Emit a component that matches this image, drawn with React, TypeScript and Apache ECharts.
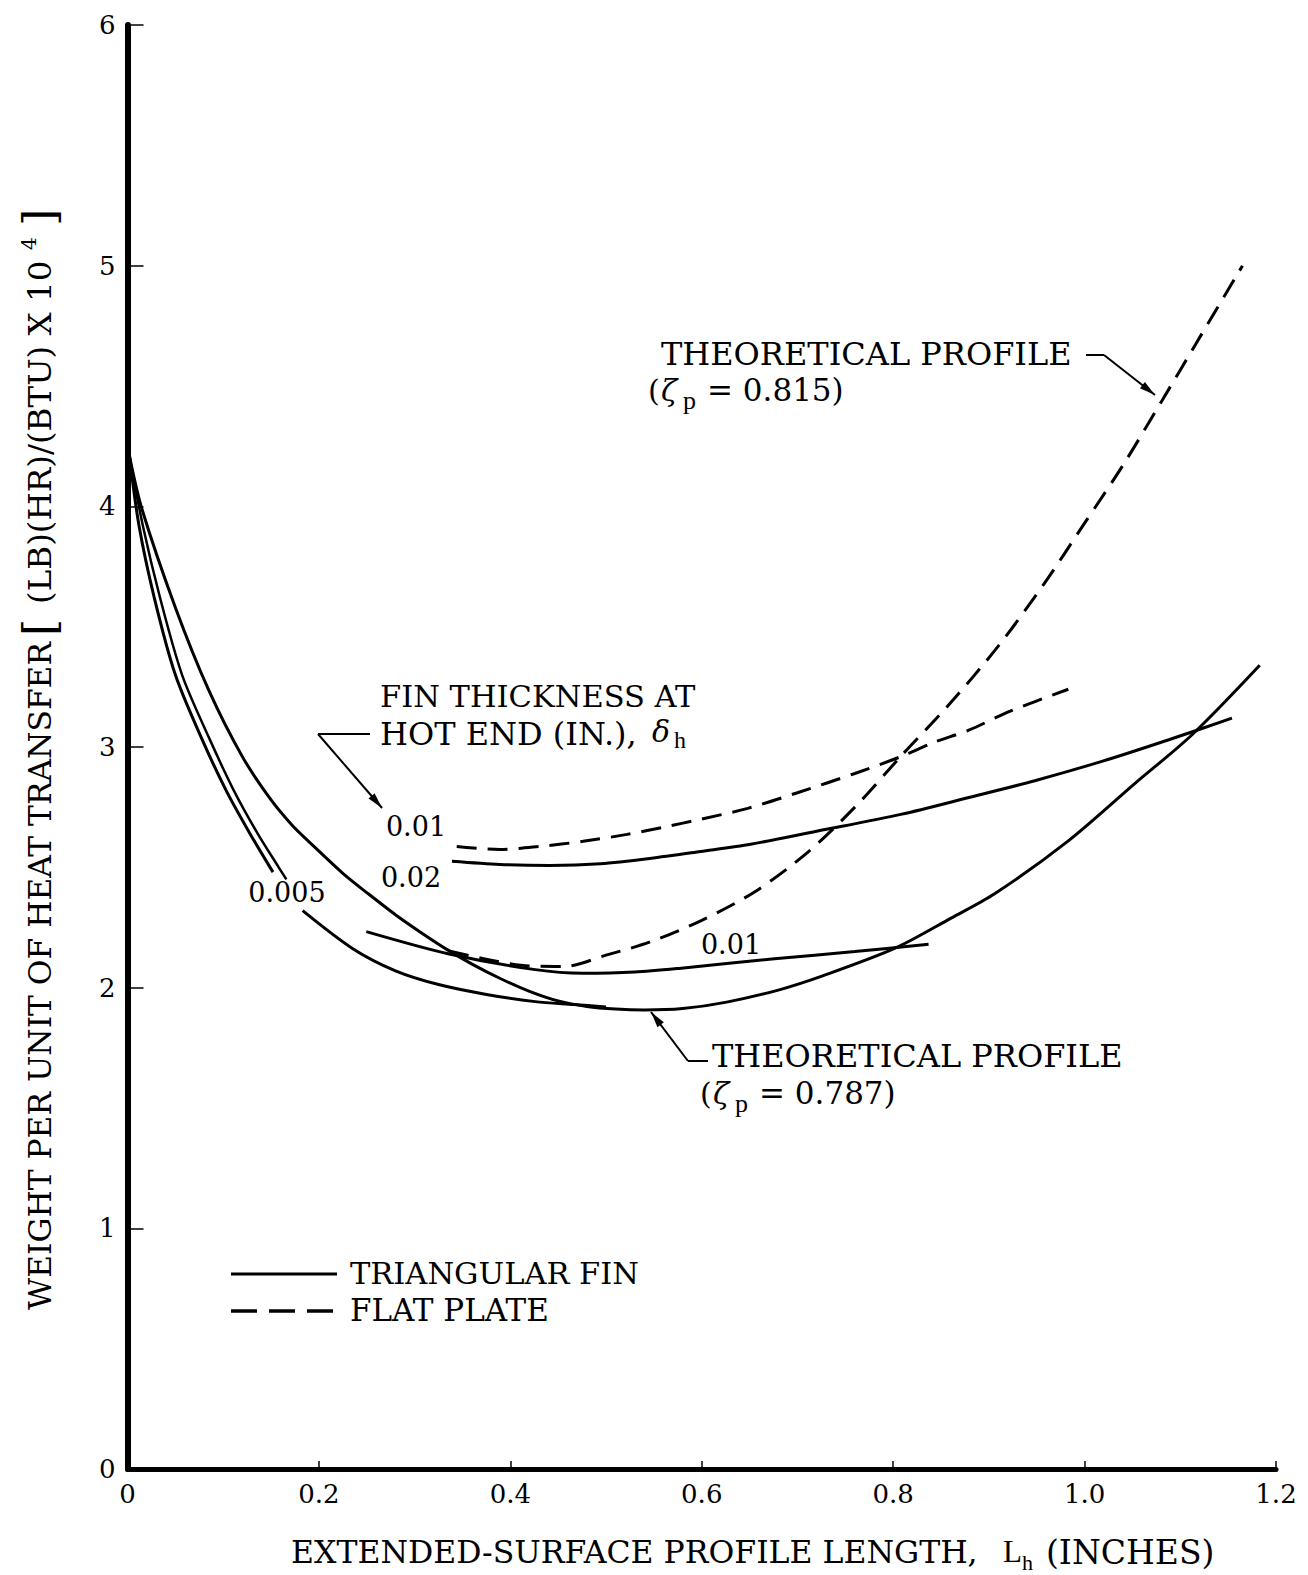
import React, { useEffect, useRef } from "react";
import * as echarts from "echarts";

// ---------- axis ticks ----------
const X_TICKS = [0, 0.2, 0.4, 0.6, 0.8, 1.0, 1.2];
const X_TICK_LABELS = ["0", "0.2", "0.4", "0.6", "0.8", "1.0", "1.2"];
const Y_TICK_LABELS = ["0", "1", "2", "3", "4", "5", "6"];

// ---------- series values [L_h (in), weight x 10^4] ----------
// Triangular fin, delta_h = 0.005 : inner stroke ending above its label
const tri005Upper = [
  [0.002, 4.21], [0.012, 3.92], [0.028, 3.62], [0.05, 3.3], [0.077, 3.04],
  [0.103, 2.82], [0.128, 2.64], [0.152, 2.48],
];
// companion stroke running just beside it
const tri005Beside = [
  [0.002, 4.21], [0.016, 3.92], [0.034, 3.62], [0.057, 3.3], [0.085, 3.04],
  [0.111, 2.82], [0.136, 2.64], [0.158, 2.5], [0.166, 2.45],
];
// continuation below the label
const tri005Lower = [
  [0.183, 2.32], [0.235, 2.163], [0.28, 2.07], [0.325, 2.013], [0.375, 1.972],
  [0.426, 1.942], [0.466, 1.93], [0.5, 1.92],
];
// Theoretical profile, triangular fin (zeta_p = 0.787)
const theory787 = [
  [0.002, 4.21], [0.015, 3.99], [0.05, 3.58], [0.085, 3.235], [0.12, 2.96],
  [0.15, 2.78], [0.172, 2.675], [0.19, 2.605], [0.225, 2.475], [0.25, 2.395],
  [0.281, 2.3], [0.31, 2.22], [0.334, 2.158], [0.36, 2.098], [0.39, 2.037],
  [0.42, 1.985], [0.45, 1.945], [0.48, 1.922], [0.51, 1.911], [0.54, 1.907],
  [0.58, 1.913], [0.626, 1.94], [0.68, 1.99], [0.727, 2.05], [0.802, 2.164],
  [0.861, 2.29], [0.906, 2.39], [0.983, 2.61], [1.053, 2.85], [1.112, 3.05],
  [1.183, 3.34],
];
// Triangular fin, delta_h = 0.01
const tri001 = [
  [0.2495, 2.233], [0.336, 2.14], [0.426, 2.075], [0.476, 2.06], [0.53, 2.065],
  [0.576, 2.08], [0.676, 2.12], [0.76, 2.15], [0.837, 2.18],
];
// Triangular fin, delta_h = 0.02
const tri002 = [
  [0.339, 2.525], [0.389, 2.512], [0.441, 2.508], [0.494, 2.515], [0.546, 2.537],
  [0.599, 2.566], [0.651, 2.596], [0.72, 2.65], [0.808, 2.72], [0.879, 2.79],
  [0.948, 2.86], [1.018, 2.94], [1.088, 3.03], [1.154, 3.12],
];
// Flat plate, delta_h = 0.01
const flat001 = [
  [0.344, 2.587], [0.389, 2.574], [0.431, 2.587], [0.476, 2.608], [0.522, 2.637],
  [0.564, 2.67], [0.599, 2.7], [0.648, 2.745], [0.7, 2.81], [0.76, 2.89],
  [0.808, 2.96], [0.843, 3.02], [0.879, 3.07], [0.923, 3.15], [0.983, 3.24],
];
// Theoretical profile, flat plate (zeta_p = 0.815)
const flat815 = [
  [0.336, 2.152], [0.38, 2.114], [0.42, 2.09], [0.456, 2.088], [0.5, 2.135],
  [0.546, 2.19], [0.6, 2.28], [0.656, 2.4], [0.71, 2.56], [0.76, 2.75],
  [0.81, 2.97], [0.857, 3.17], [0.91, 3.42], [0.958, 3.68], [1.0, 3.93],
  [1.04, 4.17], [1.081, 4.44], [1.12, 4.7], [1.165, 5.0],
];

const FONT = '"DejaVu Serif", "Liberation Serif", serif';
const SERIF2 = '"Liberation Serif", "DejaVu Serif", serif';

function txt(text: string, x: number, y: number, size: number, o: any = {}) {
  return {
    type: "text",
    x,
    y,
    silent: true,
    style: {
      text,
      fontSize: size,
      fontFamily: o.family || FONT,
      fontStyle: o.italic ? "italic" : "normal",
      fontWeight: o.weight || "normal",
      fill: "#000",
      textAlign: o.align || "left",
      textVerticalAlign: "middle",
      align: o.align || "left",
      verticalAlign: "middle",
    },
  };
}

function seg(x1: number, y1: number, x2: number, y2: number, w = 2, dash?: number[]) {
  return {
    type: "line",
    silent: true,
    shape: { x1, y1, x2, y2 },
    style: { stroke: "#000", lineWidth: w, lineDash: dash || null },
  };
}

function arrowHead(fromX: number, fromY: number, tipX: number, tipY: number, len = 16, half = 4) {
  const dx = tipX - fromX;
  const dy = tipY - fromY;
  const d = Math.sqrt(dx * dx + dy * dy);
  const ux = dx / d;
  const uy = dy / d;
  const bx = tipX - ux * len;
  const by = tipY - uy * len;
  return {
    type: "polygon",
    silent: true,
    shape: {
      points: [
        [tipX, tipY],
        [bx - uy * half, by + ux * half],
        [bx + uy * half, by - ux * half],
      ],
    },
    style: { fill: "#000" },
  };
}

function lineSeries(name: string, data: number[][], dashed: boolean, width = 3) {
  return {
    type: "line",
    name,
    data,
    showSymbol: false,
    smooth: 0.3,
    silent: true,
    lineStyle: { color: "#000", width, type: dashed ? [20, 11] : "solid" },
    z: 3,
  };
}

const option: any = {
  animation: false,
  backgroundColor: "#fff",
  grid: { left: 127.5, right: 32, top: 25, bottom: 106 },
  xAxis: {
    type: "value",
    min: 0,
    max: 1.2,
    interval: 0.2,
    splitLine: { show: false },
    axisLine: { show: true, lineStyle: { color: "#000", width: 5 } },
    axisTick: { show: true, inside: true, length: 8, lineStyle: { color: "#000", width: 1.5 } },
    axisLabel: {
      color: "#000",
      fontFamily: FONT,
      fontSize: 26,
      margin: 12,
      formatter: (v: number) => {
        const i = X_TICKS.findIndex((t) => Math.abs(t - v) < 1e-6);
        return i >= 0 ? X_TICK_LABELS[i] : "";
      },
    },
  },
  yAxis: {
    type: "value",
    min: 0,
    max: 6,
    interval: 1,
    splitLine: { show: false },
    axisLine: { show: true, lineStyle: { color: "#000", width: 6 } },
    axisTick: { show: true, inside: true, length: 16, lineStyle: { color: "#000", width: 1.5 } },
    axisLabel: {
      color: "#000",
      fontFamily: FONT,
      fontSize: 26,
      margin: 12,
      formatter: (v: number) => Y_TICK_LABELS[Math.round(v)] ?? "",
    },
  },
  series: [
    lineSeries("TRIANGULAR FIN 0.005", tri005Upper, false),
    lineSeries("TRIANGULAR FIN 0.005 (beside)", tri005Beside, false, 2.5),
    lineSeries("TRIANGULAR FIN 0.005 (lower)", tri005Lower, false),
    lineSeries("THEORETICAL PROFILE 0.787", theory787, false),
    lineSeries("TRIANGULAR FIN 0.01", tri001, false),
    lineSeries("TRIANGULAR FIN 0.02", tri002, false),
    lineSeries("FLAT PLATE 0.01", flat001, true),
    lineSeries("THEORETICAL PROFILE 0.815", flat815, true),
  ],
  graphic: [
    // y-axis title (rotated)
    {
      type: "group",
      x: 40,
      y: 1310,
      rotation: Math.PI / 2,
      silent: true,
      children: [
        txt("WEIGHT PER UNIT OF HEAT TRANSFER", 0, 0, 31.3),
        txt("[", 674, -1, 44),
        txt("(LB)(HR)/(BTU) X 10", 706, 0, 32.5),
        txt("4", 1060, -11, 20),
        txt("]", 1084, -1, 44),
      ],
    },
    // x-axis title
    txt("EXTENDED-SURFACE PROFILE LENGTH,", 291, 1552, 31.5),
    txt("L", 1003, 1551, 31, { family: SERIF2 }),
    txt("h", 1022, 1562, 22, { family: SERIF2 }),
    txt("(INCHES)", 1046, 1552, 33),

    // fin thickness annotation
    txt("FIN THICKNESS AT", 380, 696, 30.5),
    txt("HOT END (IN.),", 380, 734, 32),
    txt("δ", 652, 731, 30, { italic: true }),
    txt("h", 674, 740, 24, { family: SERIF2 }),
    seg(318, 734, 370, 734),
    seg(318, 734, 382, 808),
    arrowHead(318, 734, 382, 808),

    // curve labels
    txt("0.01", 416, 826, 27, { align: "center" }),
    txt("0.02", 411, 877, 27, { align: "center" }),
    txt("0.005", 287, 892, 27, { align: "center" }),
    txt("0.01", 731, 944, 27, { align: "center" }),

    // upper theoretical profile annotation
    txt("THEORETICAL PROFILE", 661, 354, 32),
    txt("(", 648, 390, 30),
    txt("ζ", 661, 390, 30, { italic: true }),
    txt("p", 683, 400, 26, { family: SERIF2 }),
    txt("= 0.815)", 707, 390, 31),
    seg(1086, 355, 1104, 355),
    seg(1104, 355, 1155, 395),
    arrowHead(1104, 355, 1155, 395),

    // lower theoretical profile annotation
    txt("THEORETICAL PROFILE", 712, 1056, 32),
    txt("(", 700, 1093, 30),
    txt("ζ", 713, 1093, 30, { italic: true }),
    txt("p", 735, 1103, 26, { family: SERIF2 }),
    txt("= 0.787)", 759, 1093, 31),
    seg(688, 1061, 708, 1061),
    seg(688, 1061, 651, 1012),
    arrowHead(688, 1061, 651, 1012),

    // legend
    seg(231, 1274, 337, 1274, 3),
    txt("TRIANGULAR FIN", 350, 1273, 30.5),
    seg(231, 1311, 337, 1311, 3.5, [26, 12]),
    txt("FLAT PLATE", 350, 1310, 31),
  ],
};

export default function App() {
  const ref = useRef<HTMLDivElement>(null);
  useEffect(() => {
    if (!ref.current) return;
    const chart = echarts.init(ref.current, null, { renderer: "svg" });
    chart.setOption(option);
    return () => chart.dispose();
  }, []);
  return (
    <div
      ref={ref}
      style={{ position: "absolute", left: 0, top: 0, width: 1308, height: 1575, background: "#fff" }}
    />
  );
}
